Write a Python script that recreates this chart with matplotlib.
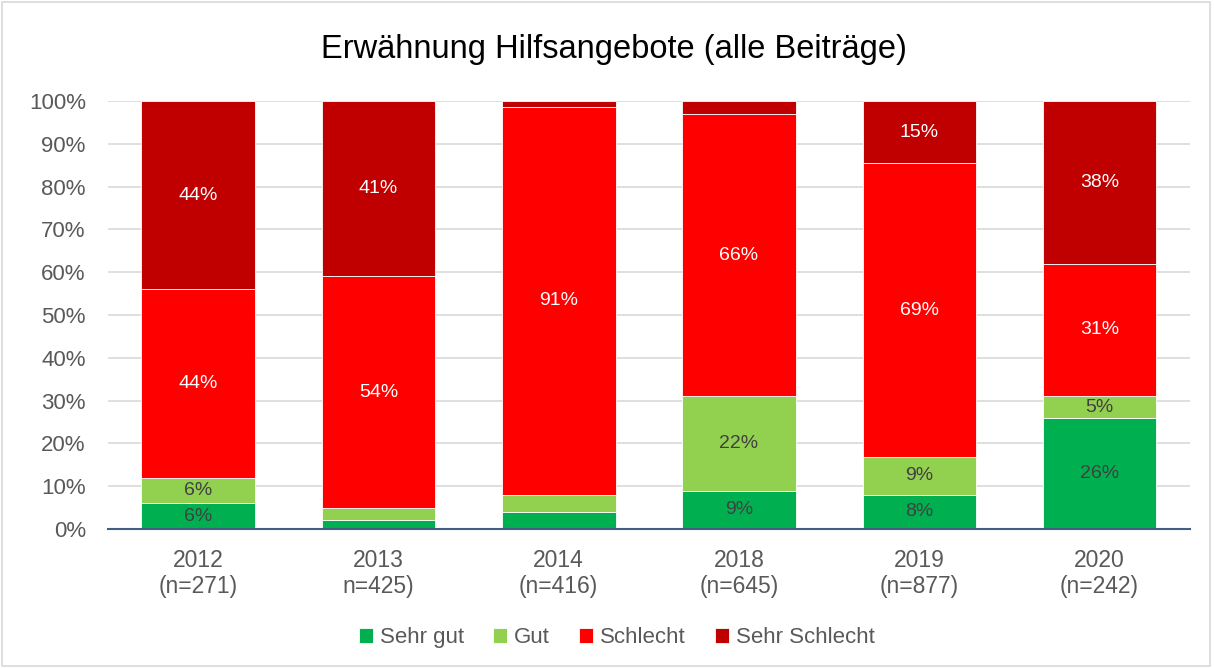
import matplotlib
matplotlib.use("Agg")
import matplotlib.pyplot as plt
from matplotlib.patches import Rectangle
import numpy as np

categories = ["2012\n(n=271)", "2013\nn=425)", "2014\n(n=416)", "2018\n(n=645)", "2019\n(n=877)", "2020\n(n=242)"]
series_names = ["Sehr gut", "Gut", "Schlecht", "Sehr Schlecht"]
sehr_gut = [6, 2, 4, 9, 8, 26]
gut = [6, 3, 4, 22, 8.8, 5]
schlecht = [44, 54, 90.6, 66, 68.6, 31]
sehr_schlecht = [44, 41, 1.4, 3, 14.6, 38]
colors = ["#00b050", "#92d050", "#ff0000", "#c00000"]
label_colors = ["#404040", "#404040", "white", "white"]

plt.rcParams['font.family'] = ['Liberation Sans', 'DejaVu Sans']

fig = plt.figure(figsize=(12.14, 6.68), dpi=100)
ax = fig.add_axes([0.089, 0.208, 0.891, 0.641])

x = np.arange(len(categories))
bottom = np.zeros(len(categories))
data = [sehr_gut, gut, schlecht, sehr_schlecht]
for vals, name, col, lc in zip(data, series_names, colors, label_colors):
    vals = np.array(vals, dtype=float)
    ax.bar(x, vals, 0.63, bottom=bottom, color=col, label=name,
           edgecolor="white", linewidth=0.6, zorder=3)
    for xi, v, b in zip(x, vals, bottom):
        if v >= 5:
            ax.text(xi, b + v / 2, f"{int(round(v))}%", ha="center", va="center",
                    color=lc, fontsize=14, zorder=4)
    bottom += vals

ax.set_ylim(0, 100)
ax.set_xlim(-0.5, len(categories) - 0.5)
ax.set_yticks(np.arange(0, 101, 10))
ax.set_yticklabels([f"{v}%" for v in range(0, 101, 10)])
ax.set_xticks(x)
ax.set_xticklabels(categories, linespacing=1.22)
ax.tick_params(axis="both", length=0, colors="#595959")
ax.tick_params(axis="y", pad=16, labelsize=16)
ax.tick_params(axis="x", pad=14, labelsize=16.5)
ax.grid(axis="y", color="#d9d9d9", linewidth=1.2, zorder=0)
for s in ["top", "right", "left"]:
    ax.spines[s].set_visible(False)
ax.spines["bottom"].set_color("#3f5f86")
ax.spines["bottom"].set_linewidth(1.5)
ax.spines["bottom"].set_zorder(5)

fig.text(0.506, 0.926, "Erwähnung Hilfsangebote (alle Beiträge)", ha="center", va="center",
         fontsize=23.5, color="#000000")

leg = fig.legend(loc="center", bbox_to_anchor=(0.508, 0.045), ncol=4, frameon=False,
                 fontsize=16, handlelength=0.65, handleheight=0.65, handletextpad=0.3,
                 columnspacing=1.3, labelcolor="#595959")

fig.patches.append(Rectangle((0.002, 0.003), 0.995, 0.994, transform=fig.transFigure,
                             fill=False, edgecolor="#d9d9d9", linewidth=1.2))

fig.savefig("out.png", dpi=100)
